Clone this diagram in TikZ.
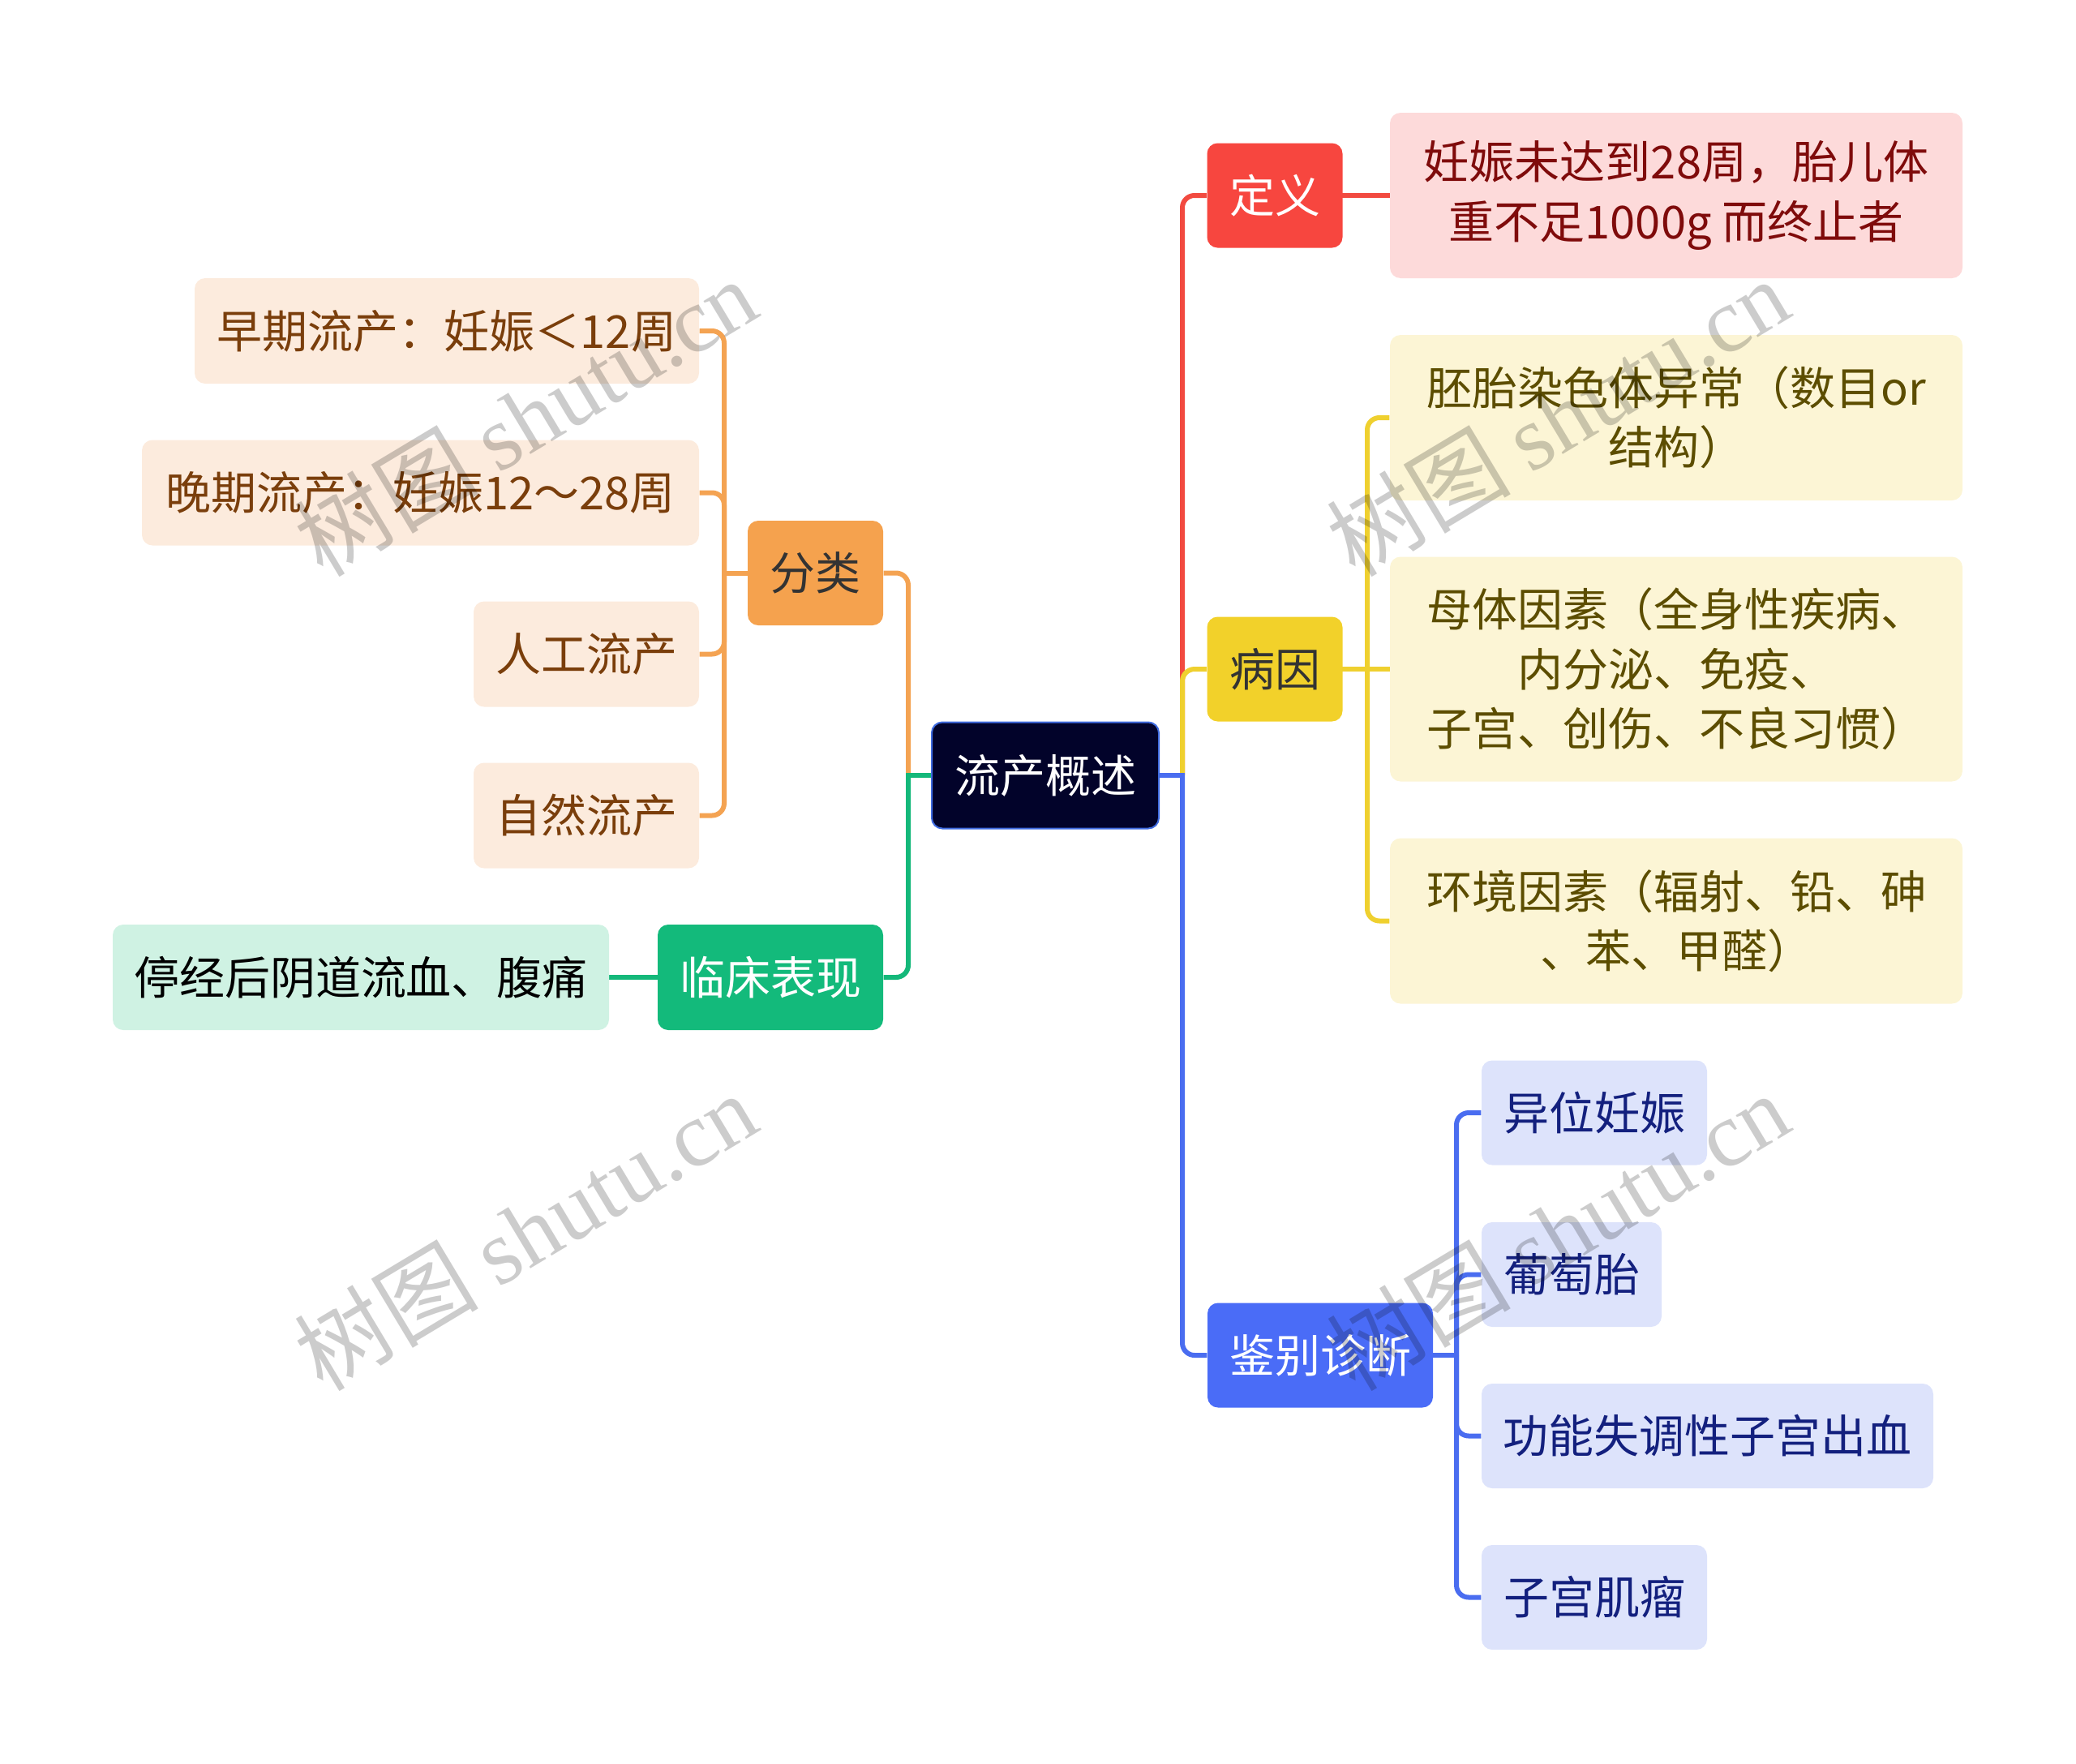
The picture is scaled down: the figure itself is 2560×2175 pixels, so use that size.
\documentclass[tikz,border=0pt]{standalone}
\usepackage{fontspec}
\setmainfont{Noto Sans CJK SC}
\newfontfamily\wmlatin{Liberation Serif}
\usetikzlibrary{backgrounds}
\definecolor{rootfill}{HTML}{02032A}
\definecolor{rootline}{HTML}{3F6BE0}
\definecolor{cred}{HTML}{F7463F}
\definecolor{lred}{HTML}{F24A40}
\definecolor{pinkfill}{HTML}{FDDADA}
\definecolor{pinktext}{HTML}{7F0B0B}
\definecolor{cyellow}{HTML}{F2D12A}
\definecolor{lyellow}{HTML}{EFD02F}
\definecolor{yfill}{HTML}{FCF5D5}
\definecolor{ytext}{HTML}{5C4D00}
\definecolor{cblue}{HTML}{4A6CF7}
\definecolor{lblue}{HTML}{4A6DF0}
\definecolor{bfill}{HTML}{DDE3FB}
\definecolor{btext}{HTML}{13207E}
\definecolor{corange}{HTML}{F5A24E}
\definecolor{lorange}{HTML}{F4A352}
\definecolor{ofill}{HTML}{FCEBDD}
\definecolor{otext}{HTML}{7A3E0B}
\definecolor{cgreen}{HTML}{13BA7B}
\definecolor{lgreen}{HTML}{14B87A}
\definecolor{gfill}{HTML}{CFF2E3}
\definecolor{darktext}{HTML}{333333}
\begin{document}
\begin{tikzpicture}[x=0.3pt,y=-0.3pt,
  box/.style={rounded corners=3.9pt, inner sep=0pt, align=center,
    font=\fontsize{16.8pt}{22pt}\selectfont},
  conn/.style={line width=1.8pt, rounded corners=4.5pt},
  stub/.style={line width=1.8pt, line cap=rect},
  wm/.style={rotate=31, text=black, opacity=0.2, font=\fontsize{34pt}{38pt}\selectfont}]
\useasboundingbox (0,0) rectangle (2560,2175);

% root
\node[box, fill=rootfill, draw=rootline, line width=0.6pt, text=white,
  minimum width=84pt, minimum height=39.3pt] (root) at (1289,956) {流产概述};

% right side
\node[box, fill=cred, text=white, minimum width=50.1pt, minimum height=38.7pt] (ding) at (1572,241) {定义};
\node[box, fill=pinkfill, text=pinktext, minimum width=211.8pt, minimum height=61.2pt] (defn) at (2067,241)
  {妊娠未达到28周，胎儿体\\重不足1000g 而终止者};

\node[box, fill=cyellow, text=darktext, minimum width=50.1pt, minimum height=38.7pt] (yin) at (1572,825) {病因};
\node[box, fill=yfill, text=ytext, minimum width=211.8pt, minimum height=61.2pt] (c1) at (2067,515)
  {胚胎染色体异常（数目or\\结构）};
\node[box, fill=yfill, text=ytext, minimum width=211.8pt, minimum height=83.1pt] (c2) at (2067,825)
  {母体因素（全身性疾病、\\内分泌、免疫、\\子宫、创伤、不良习惯）};
\node[box, fill=yfill, text=ytext, minimum width=211.8pt, minimum height=61.2pt] (c3) at (2067,1135.5)
  {环境因素（辐射、铅、砷\\、苯、甲醛）};

\node[box, fill=cblue, text=white, minimum width=83.4pt, minimum height=38.7pt] (jb) at (1628,1671) {鉴别诊断};
\node[box, fill=bfill, text=btext, minimum width=83.4pt, minimum height=38.7pt] (d1) at (1966,1372) {异位妊娠};
\node[box, fill=bfill, text=btext, minimum width=66.6pt, minimum height=38.7pt] (d2) at (1938,1571.5) {葡萄胎};
\node[box, fill=bfill, text=btext, minimum width=167.1pt, minimum height=38.7pt] (d3) at (2105.5,1770.5) {功能失调性子宫出血};
\node[box, fill=bfill, text=btext, minimum width=83.4pt, minimum height=38.7pt] (d4) at (1966,1969.5) {子宫肌瘤};

% left side
\node[box, fill=corange, text=darktext, minimum width=50.1pt, minimum height=38.7pt] (fl) at (1005.5,706.5) {分类};
\node[box, fill=ofill, text=otext, minimum width=186.6pt, minimum height=39pt] (k1) at (551,408) {早期流产：妊娠＜12周};
\node[box, fill=ofill, text=otext, minimum width=206.1pt, minimum height=39pt] (k2) at (518.5,607.5) {晚期流产：妊娠12～28周};
\node[box, fill=ofill, text=otext, minimum width=83.4pt, minimum height=39pt] (k3) at (723,806.5) {人工流产};
\node[box, fill=ofill, text=otext, minimum width=83.4pt, minimum height=39pt] (k4) at (723,1005.5) {自然流产};

\node[box, fill=cgreen, text=white, minimum width=83.4pt, minimum height=39pt] (lc) at (950,1205) {临床表现};
\node[box, fill=gfill, text=black, minimum width=183.6pt, minimum height=39pt] (sy) at (445,1205) {停经后阴道流血、腹痛};

% connectors
\begin{scope}[on background layer]
  \coordinate (tR) at (1458,956);
  \coordinate (tL) at (1120,956);
  \coordinate (tC) at (1686,825);
  \coordinate (tD) at (1796,1671);
  \coordinate (tK) at (893,706.5);
  \draw[conn, lred] (tR) |- (ding.west);
  \draw[conn, lyellow] (tR) |- (yin.west);
  \draw[conn, lblue] (tR) |- (jb.west);
  \draw[stub, lblue] (root.east) -- (tR);
  \draw[conn, lorange] (tL) |- (fl.east);
  \draw[conn, lgreen] (tL) |- (lc.east);
  \draw[stub, lgreen] (root.west) -- (tL);
  \draw[stub, lred] (ding.east) -- (defn.west);
  \draw[conn, lyellow] (tC) |- (c1.west);
  \draw[conn, lyellow] (tC) |- (c3.west);
  \draw[stub, lyellow] (yin.east) -- (c2.west);
  \draw[conn, lblue] (tD) |- (d1.west);
  \draw[conn, lblue] (tD) |- (d2.west);
  \draw[conn, lblue] (tD) |- (d3.west);
  \draw[conn, lblue] (tD) |- (d4.west);
  \draw[stub, lblue] (jb.east) -- (tD);
  \draw[conn, lorange] (tK) |- (k1.east);
  \draw[conn, lorange] (tK) |- (k2.east);
  \draw[conn, lorange] (tK) |- (k3.east);
  \draw[conn, lorange] (tK) |- (k4.east);
  \draw[stub, lorange] (fl.west) -- (tK);
  \draw[stub, lgreen] (lc.west) -- (sy.east);
\end{scope}

% watermarks
\node[wm] (wm1) at (648,514) {树图 {\wmlatin shutu.cn}};
\node[wm] (wm2) at (1921,514) {树图 {\wmlatin shutu.cn}};
\node[wm] (wm3) at (648,1518) {树图 {\wmlatin shutu.cn}};
\node[wm] (wm4) at (1921,1518) {树图 {\wmlatin shutu.cn}};
\end{tikzpicture}
\end{document}
